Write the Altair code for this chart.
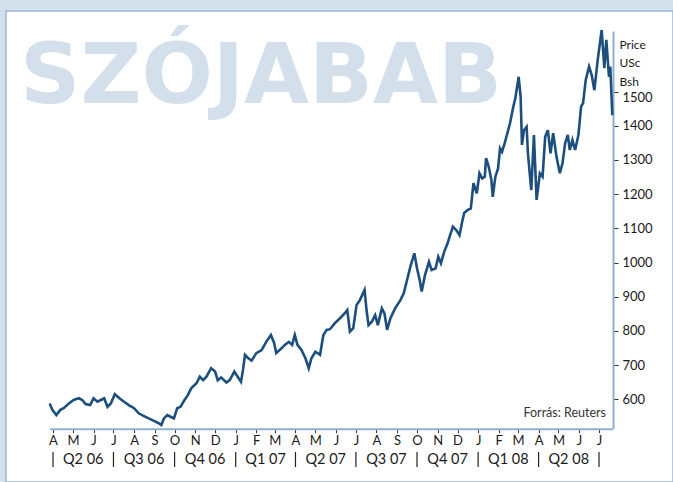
import json
import altair as alt
import pandas as pd

TITLE = "SZÓJABAB"
SOURCE = "Forrás: Reuters"
Y_TITLE = ["Price", "USc", "Bsh"]

dates = [
    "2006-03-27", "2006-03-31", "2006-04-06", "2006-04-12", "2006-04-17", "2006-04-25",
    "2006-05-02", "2006-05-10", "2006-05-15", "2006-05-20", "2006-05-27", "2006-06-01",
    "2006-06-07", "2006-06-12", "2006-06-17", "2006-06-22", "2006-06-27", "2006-07-03",
    "2006-07-10", "2006-07-17", "2006-07-24", "2006-08-01", "2006-08-08", "2006-08-16",
    "2006-08-23", "2006-08-31", "2006-09-07", "2006-09-11", "2006-09-15", "2006-09-20",
    "2006-09-25", "2006-09-30", "2006-10-05", "2006-10-10", "2006-10-15", "2006-10-21",
    "2006-10-26", "2006-11-03", "2006-11-08", "2006-11-13", "2006-11-18", "2006-11-25",
    "2006-12-01", "2006-12-05", "2006-12-10", "2006-12-18", "2006-12-23", "2006-12-30",
    "2007-01-04", "2007-01-09", "2007-01-12", "2007-01-15", "2007-01-20", "2007-01-25",
    "2007-02-01", "2007-02-09", "2007-02-16", "2007-02-23", "2007-02-28", "2007-03-03",
    "2007-03-11", "2007-03-16", "2007-03-22", "2007-03-27", "2007-03-31", "2007-04-04",
    "2007-04-10", "2007-04-16", "2007-04-21", "2007-04-25", "2007-05-01", "2007-05-08",
    "2007-05-13", "2007-05-18", "2007-05-23", "2007-05-30", "2007-06-07", "2007-06-14",
    "2007-06-18", "2007-06-22", "2007-06-27", "2007-07-02", "2007-07-07", "2007-07-14",
    "2007-07-17", "2007-07-20", "2007-07-25", "2007-07-30", "2007-08-03", "2007-08-09",
    "2007-08-13", "2007-08-17", "2007-08-22", "2007-08-29", "2007-09-06", "2007-09-11",
    "2007-09-16", "2007-09-21", "2007-09-27", "2007-10-01", "2007-10-05", "2007-10-08",
    "2007-10-13", "2007-10-19", "2007-10-23", "2007-10-29", "2007-11-02", "2007-11-06",
    "2007-11-11", "2007-11-16", "2007-11-19", "2007-11-24", "2007-11-29", "2007-12-04",
    "2007-12-08", "2007-12-11", "2007-12-16", "2007-12-21", "2007-12-25", "2007-12-30",
    "2008-01-03", "2008-01-07", "2008-01-11", "2008-01-13", "2008-01-17", "2008-01-21",
    "2008-01-23", "2008-01-27", "2008-01-31", "2008-02-03", "2008-02-06", "2008-02-10",
    "2008-02-14", "2008-02-18", "2008-02-23", "2008-02-26", "2008-03-02", "2008-03-05",
    "2008-03-07", "2008-03-10", "2008-03-14", "2008-03-16", "2008-03-21", "2008-03-25",
    "2008-03-29", "2008-04-03", "2008-04-07", "2008-04-11", "2008-04-15", "2008-04-19",
    "2008-04-23", "2008-04-28", "2008-05-03", "2008-05-07", "2008-05-11", "2008-05-15",
    "2008-05-18", "2008-05-22", "2008-05-26", "2008-05-31", "2008-06-04", "2008-06-07",
    "2008-06-11", "2008-06-16", "2008-06-20", "2008-06-24", "2008-06-29", "2008-07-05",
    "2008-07-09", "2008-07-12", "2008-07-16", "2008-07-18", "2008-07-21",
]
prices = [
    588, 569, 554, 569, 574, 588,
    598, 603, 598, 586, 583, 603,
    593, 598, 603, 578, 588, 615,
    603, 593, 583, 574, 559, 551,
    544, 537, 530, 525, 544, 554,
    549, 544, 574, 578, 595, 612,
    632, 647, 666, 656, 666, 691,
    681, 656, 664, 649, 656, 681,
    666, 651, 686, 730, 720, 713,
    735, 744, 768, 788, 764, 735,
    749, 759, 768, 759, 788, 759,
    744, 720, 691, 720, 739, 730,
    788, 803, 805, 822, 837, 851,
    861, 798, 808, 876, 890, 920,
    861, 817, 827, 846, 817, 866,
    851, 803, 837, 866, 890, 910,
    949, 988, 1027, 983, 949, 915,
    963, 1002, 978, 983, 1017, 998,
    1032, 1056, 1075, 1105, 1095, 1080,
    1119, 1145, 1153, 1158, 1232, 1202,
    1261, 1246, 1251, 1305, 1280, 1241,
    1192, 1251, 1275, 1334, 1324, 1349,
    1378, 1407, 1456, 1480, 1543, 1485,
    1344, 1387, 1397, 1319, 1212, 1373,
    1183, 1261, 1251, 1368, 1387, 1319,
    1378, 1309, 1261, 1290, 1349, 1373,
    1329, 1358, 1329, 1373, 1456, 1466,
    1534, 1573, 1548, 1504, 1592, 1680,
    1568, 1651, 1543, 1573, 1431,
]

month_letters = ["J", "F", "M", "A", "M", "J", "J", "A", "S", "O", "N", "D"]
quarter_starts = [
    "2006-04-01", "2006-07-01", "2006-10-01", "2007-01-01", "2007-04-01",
    "2007-07-01", "2007-10-01", "2008-01-01", "2008-04-01", "2008-07-01",
]
quarter_labels = ["Q2 06", "Q3 06", "Q4 06", "Q1 07", "Q2 07",
                  "Q3 07", "Q4 07", "Q1 08", "Q2 08"]
y_ticks = [600, 700, 800, 900, 1000, 1100, 1200, 1300, 1400, 1500]

FONT = "Lato"
LINE = "#1c4e7e"
AXIS_BLUE = "#8fb0cf"
BG = "#d4e1ed"

df = pd.DataFrame({"date": pd.to_datetime(dates), "price": prices})
qs = pd.to_datetime(quarter_starts)
df_q = pd.DataFrame({"mid": qs[:-1] + (qs[1:] - qs[:-1]) / 2, "q": quarter_labels})
df_sep = pd.DataFrame({"start": qs})


def dt(s):
    t = pd.Timestamp(s)
    return alt.DateTime(year=t.year, month=t.month, date=t.day)


x_scale = alt.Scale(domain=[dt("2006-03-27"), dt("2008-07-21")], range=[43.7, 606.3])
y_scale = alt.Scale(domain=[514, 1677], range=[417.7, 20], nice=False, zero=False)

x_axis = alt.Axis(
    tickCount={"interval": "month", "step": 1},
    labelExpr=json.dumps(month_letters) + "[month(datum.value)]",
    orient="bottom", offset=-53.3, title=None, grid=False,
    domainColor=AXIS_BLUE, domainWidth=2,
    tickColor="#333333", tickSize=4, tickWidth=1,
    labelFont=FONT, labelFontSize=13, labelColor="#1a1a1a", labelPadding=2,
    labelFlush=False, labelOverlap=False, labelBound=False,
)
y_axis = alt.Axis(
    values=y_ticks, format="d", orient="right", offset=-60, grid=False,
    domainColor=AXIS_BLUE, domainWidth=2,
    tickColor="#333333", tickSize=5, tickWidth=1,
    labelFont=FONT, labelFontSize=13, labelColor="#1a1a1a", labelPadding=4,
    labelOffset={"condition": {"test": "datum.value == 1500", "value": 6}, "value": 0},
    title=Y_TITLE, titleAngle=0, titleAlign="left", titleBaseline="alphabetic",
    titleX=6, titleY=37.3, titleLineHeight=18.4, titleFont=FONT,
    titleFontSize=12, titleFontWeight="normal", titleColor="#1a1a1a",
)

title_layer = alt.Chart(pd.DataFrame({"t": [TITLE]})).mark_text(
    font="DejaVu Sans", fontSize=84, fontWeight="bold", color="#d3e0ec",
    align="left", baseline="alphabetic",
).encode(text="t:N", x=alt.value(14), y=alt.value(92))

line = alt.Chart(df).mark_line(color=LINE, strokeWidth=2.6, strokeJoin="miter").encode(
    x=alt.X("date:T", scale=x_scale, axis=x_axis, title=None),
    y=alt.Y("price:Q", scale=y_scale, axis=y_axis),
)

seps = alt.Chart(df_sep).mark_rule(color="#222222", strokeWidth=1.2).encode(
    x=alt.X("start:T", title=None), y=alt.value(441), y2=alt.value(456),
)

qtext = alt.Chart(df_q).mark_text(
    font=FONT, fontSize=14.5, color="#1a1a1a", align="center", baseline="alphabetic",
).encode(x=alt.X("mid:T", title=None), y=alt.value(453), text="q:N")

source = alt.Chart(pd.DataFrame({"s": [SOURCE]})).mark_text(
    font=FONT, fontSize=12.5, color="#333333", align="right", baseline="alphabetic",
).encode(text="s:N", x=alt.value(600), y=alt.value(405.5))

chart = alt.layer(title_layer, line, seps, qtext, source).properties(
    width=667, height=471,
    autosize=alt.AutoSizeParams(type="none"),
    padding={"left": 6, "top": 11, "right": 0, "bottom": 0},
    background=BG,
).configure_view(fill="white", stroke="#9cb8d2", strokeWidth=1.5)

chart.save("out.html", embed_options={"renderer": "svg", "actions": False})
